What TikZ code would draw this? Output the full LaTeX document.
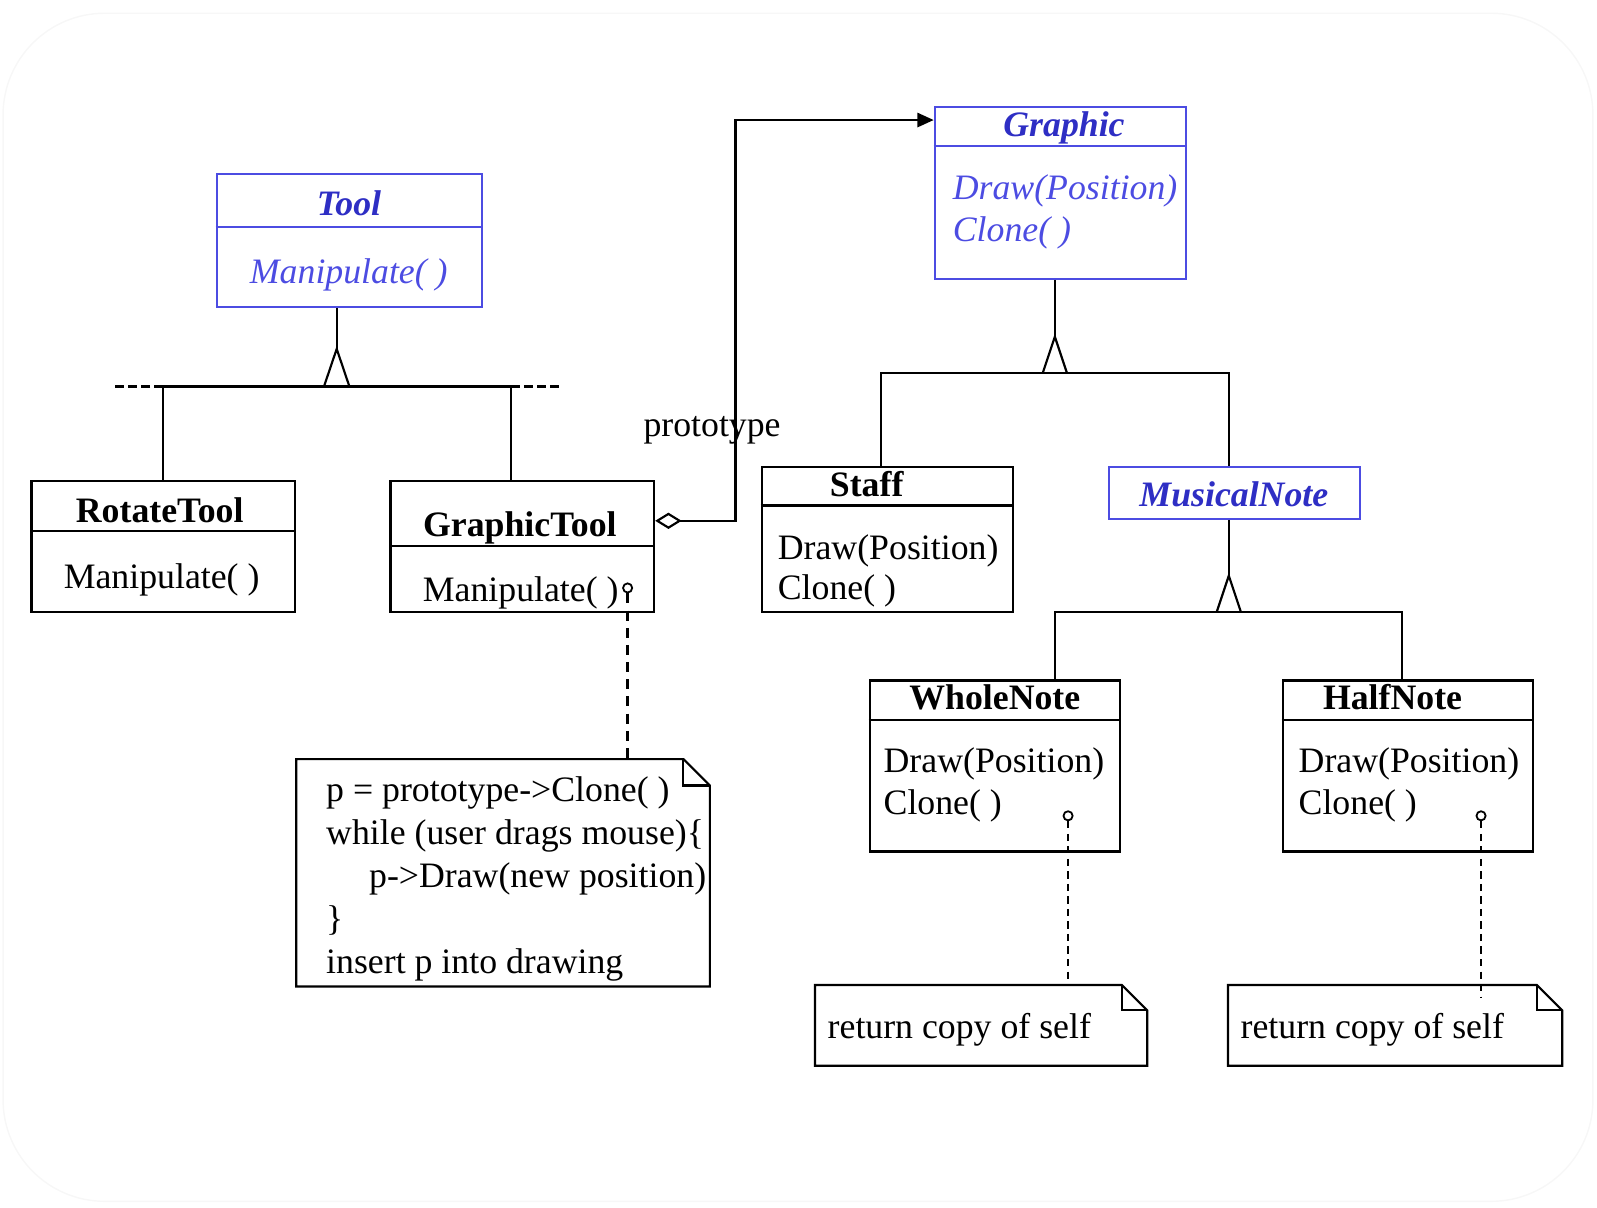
\documentclass[tikz,border=0pt]{standalone}
\usepackage{fontspec}
\setmainfont{Liberation Serif}
\usetikzlibrary{positioning, arrows.meta, calc}

\definecolor{umlblue}{RGB}{76,76,226}
\definecolor{titleblue}{RGB}{46,46,196}

\tikzset{
  cls/.style={draw, line width=0.6pt, inner sep=0pt},
  abscls/.style={cls, draw=umlblue},
  clsname/.style={font=\bfseries, inner sep=0pt, text height=0.7em, text depth=0.2em},
  absname/.style={clsname, font=\bfseries\itshape, text=titleblue},
  op/.style={inner sep=0pt, anchor=west, text height=0.7em, text depth=0.2em},
  absop/.style={op, font=\itshape, text=umlblue},
  notebox/.style={inner sep=0pt},
  port/.style={circle, draw, line width=0.5pt, inner sep=0pt, minimum size=0.09cm},
  link/.style={line width=0.6pt},
  busext/.style={line width=0.6pt, dash pattern=on 2.5pt off 1.2pt},
  notelink/.style={line width=0.6pt, dash pattern=on 2pt off 1.5pt},
  notelinkb/.style={line width=0.9pt, dash pattern=on 2.8pt off 2pt}
}

% dog-eared outline round a note node
\newcommand{\dogear}[2][0.26cm]{%
  \draw[line width=0.6pt] (#2.north west) -- ([xshift=-#1]#2.north east) -- ([yshift=-#1]#2.north east) -- (#2.south east) -- (#2.south west) -- cycle;
  \draw[line width=0.6pt] ([xshift=-#1]#2.north east) |- ([yshift=-#1]#2.north east);}

\begin{document}
\begin{tikzpicture}[x=0.01cm, y=-0.01cm, font=\fontsize{10}{12}\selectfont]
  \useasboundingbox (0,0) rectangle (1570,1187);
  \draw[black!3, rounded corners=1cm] (3,13) rectangle (1566,1181);

  % classes
  \node[abscls, minimum width=2.61cm, minimum height=1.31cm] (tool) at (343.5,236.5) {};
  \draw[umlblue, line width=0.6pt] ([yshift=-0.53cm]tool.north west) -- ([yshift=-0.53cm]tool.north east);
  \node[absname] (tool-name) at (343,203) {Tool};
  \node[absop] (tool-op) at (245,270) {Manipulate( )};

  \node[cls, minimum width=2.59cm, minimum height=1.29cm] (rtool) at (160.5,537.5) {};
  \draw[line width=0.6pt] ([yshift=-0.5cm]rtool.north west) -- ([yshift=-0.5cm]rtool.north east);
  \node[clsname] (rtool-name) at (157,505) {RotateTool};
  \node[op] (rtool-op) at (62,570) {Manipulate( )};

  \node[cls, minimum width=2.59cm, minimum height=1.29cm] (gtool) at (513.5,537.5) {};
  \draw[line width=0.6pt] ([yshift=-0.65cm]gtool.north west) -- ([yshift=-0.65cm]gtool.north east);
  \node[clsname] (gtool-name) at (511,519) {GraphicTool};
  \node[op] (gtool-op) at (415,583) {Manipulate( )};

  \node[abscls, minimum width=2.47cm, minimum height=1.69cm] (graphic) at (1042.5,189.5) {};
  \draw[umlblue, line width=0.6pt] ([yshift=-0.4cm]graphic.north west) -- ([yshift=-0.4cm]graphic.north east);
  \node[absname] (graphic-name) at (1046,125) {Graphic};
  \node[absop] (graphic-draw) at (936,187) {Draw(Position)};
  \node[absop] (graphic-clone) at (936,229) {Clone( )};

  \node[cls, minimum width=2.47cm, minimum height=1.43cm] (staff) at (872.5,530.5) {};
  \draw[line width=0.6pt] ([yshift=-0.39cm]staff.north west) -- ([yshift=-0.39cm]staff.north east);
  \node[clsname] (staff-name) at (852,479) {Staff};
  \node[op] (staff-draw) at (764,541) {Draw(Position)};
  \node[op] (staff-clone) at (764,581) {Clone( )};

  \node[abscls, minimum width=2.47cm, minimum height=0.51cm] (mnote) at (1213.5,484.5) {};
  \node[absname] (mnote-name) at (1213,489) {MusicalNote};

  \node[cls, minimum width=2.46cm, minimum height=1.68cm] (wnote) at (978,753) {};
  \draw[line width=0.6pt] ([yshift=-0.4cm]wnote.north west) -- ([yshift=-0.4cm]wnote.north east);
  \node[clsname] (wnote-name) at (978,689) {WholeNote};
  \node[op] (wnote-draw) at (868,751) {Draw(Position)};
  \node[op] (wnote-clone) at (868,792) {Clone( )};

  \node[cls, minimum width=2.46cm, minimum height=1.68cm] (hnote) at (1384,753) {};
  \draw[line width=0.6pt] ([yshift=-0.4cm]hnote.north west) -- ([yshift=-0.4cm]hnote.north east);
  \node[clsname] (hnote-name) at (1369,689) {HalfNote};
  \node[op] (hnote-draw) at (1276,751) {Draw(Position)};
  \node[op] (hnote-clone) at (1276,792) {Clone( )};

  % notes
  \node[notebox, minimum width=4.05cm, minimum height=2.22cm] (drag) at (494.5,858) {};
  \dogear{drag}
  \node[inner sep=0pt, anchor=north west, align=left] (drag-text) at (320,763)
    {p = prototype->Clone( )\\ while (user drags mouse)\{\\ \hspace*{1.2em}p->Draw(new position)\\ \}\\ insert p into drawing};

  \node[notebox, minimum width=3.25cm, minimum height=0.78cm] (wcopy) at (964.5,1008) {};
  \dogear[0.25cm]{wcopy}
  \node[inner sep=0pt, anchor=base west] (wcopy-text) at (813,1021) {return copy of self};

  \node[notebox, minimum width=3.27cm, minimum height=0.78cm] (hcopy) at (1371.5,1008) {};
  \dogear[0.25cm]{hcopy}
  \node[inner sep=0pt, anchor=base west] (hcopy-text) at (1219,1021) {return copy of self};

  % Tool hierarchy
  \coordinate (toolbus) at (331,380);
  \draw[link] (tool.south -| toolbus) -- ([yshift=0.37cm]toolbus);
  \draw[link] ([xshift=-0.125cm]toolbus) -- ([yshift=0.37cm]toolbus) -- ([xshift=0.125cm]toolbus);
  \draw[link] (rtool.north) |- (toolbus) -| ([xshift=-0.115cm]gtool.north);
  \draw[busext] (rtool.north |- toolbus) -- ++(-52,0);
  \draw[busext] ([xshift=-0.115cm]gtool.north |- toolbus) -- ++(51,0);

  % Graphic hierarchy
  \coordinate (gbus) at (1037,367);
  \draw[link] (graphic.south -| gbus) -- ([yshift=0.36cm]gbus);
  \draw[link] ([xshift=-0.12cm]gbus) -- ([yshift=0.36cm]gbus) -- ([xshift=0.12cm]gbus);
  \draw[link] ([xshift=-0.065cm]staff.north) |- (gbus) -| ([xshift=-0.055cm]mnote.north);

  \coordinate (mbus) at (1208,602);
  \draw[link] (mnote.south -| mbus) -- ([yshift=0.36cm]mbus);
  \draw[link] ([xshift=-0.12cm]mbus) -- ([yshift=0.36cm]mbus) -- ([xshift=0.12cm]mbus);
  \draw[link] (wnote.north -| gbus) |- (mbus) -| ([xshift=-0.06cm]hnote.north);

  % prototype aggregation
  \node[inner sep=0pt] (proto-lbl) at (700,423) {prototype};
  \coordinate (protobend) at (723,118);
  \draw[link, {Diamond[open, length=0.26cm, width=0.16cm]}-{Triangle[length=0.16cm, width=0.14cm]}]
    ([yshift=0.255cm]gtool.east) -| (protobend) -- (protobend -| graphic.west);

  % note links
  \node[port] (gtool-port) at (617,578) {};
  \draw[notelinkb] (gtool-port.south) -- (gtool-port.south |- drag.north);
  \node[port] (wnote-port) at (1050,802) {};
  \draw[notelink] (wnote-port.south) -- (wnote-port.south |- wcopy.north);
  \node[port] (hnote-port) at (1456,802) {};
  \draw[notelink, shorten >=-0.13cm] (hnote-port.south) -- (hnote-port.south |- hcopy.north);
\end{tikzpicture}
\end{document}
